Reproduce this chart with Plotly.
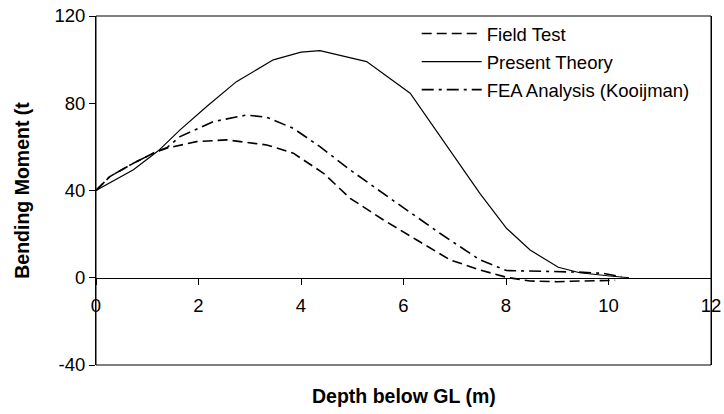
import plotly.graph_objects as go

# Data
ft_depth = [0, 0.27, 0.73, 1.18, 1.38, 1.96, 2.55, 3.33, 3.85, 4.44, 4.96, 5.61, 6.26, 6.91, 7.49, 8.01, 8.47, 8.99, 9.44, 10.13]
ft_moment = [40, 46.4, 52.5, 57.8, 59.4, 62.4, 63.2, 60.9, 57.1, 47.9, 36.4, 26.5, 17.3, 8.2, 3.6, 0.2, -1.5, -1.8, -1.5, -1.2]

pt_depth = [0, 0.73, 1.22, 1.64, 2.16, 2.74, 3.46, 4.0, 4.37, 5.28, 6.13, 6.91, 7.49, 8.01, 8.47, 9.02, 9.44, 10.03, 10.4]
pt_moment = [40, 49.5, 58.3, 67.8, 78.5, 89.9, 99.9, 103.4, 104.1, 99.1, 84.6, 58.5, 38.7, 22.7, 12.7, 4.8, 2.3, 0.8, 0]

fea_depth = [0, 0.27, 0.73, 1.18, 1.38, 1.64, 2.29, 2.94, 3.33, 3.85, 4.37, 4.96, 5.74, 6.71, 7.49, 8.01, 9.4, 9.9, 10.25]
fea_moment = [40, 46.4, 52.5, 57.8, 59.6, 64.7, 71.6, 74.6, 73.6, 68.5, 60.1, 49.4, 36.4, 20.4, 8.2, 3.3, 2.6, 2.0, 0.5]

x_ticks = [0, 2, 4, 6, 8, 10, 12]
y_ticks = [-40, 0, 40, 80, 120]

FONT = "Liberation Sans, Arial, sans-serif"

fig = go.Figure()
fig.add_trace(go.Scatter(x=ft_depth, y=ft_moment, mode="lines", name="Field Test",
                         legendgroup="a",
                         line=dict(color="black", width=1.6, dash="10px,5px")))
fig.add_trace(go.Scatter(x=pt_depth, y=pt_moment, mode="lines", name="Present Theory",
                         legendgroup="b",
                         line=dict(color="black", width=1.2)))
fig.add_trace(go.Scatter(x=fea_depth, y=fea_moment, mode="lines", name="FEA Analysis (Kooijman)",
                         legendgroup="c",
                         line=dict(color="black", width=1.6, dash="12px,5px,3px,5px")))

fig.update_layout(
    width=724, height=414,
    margin=dict(l=96, r=13, t=16, b=49, autoexpand=False),
    paper_bgcolor="white", plot_bgcolor="white",
    font=dict(family=FONT, size=18.5, color="black"),
    showlegend=True,
    legend=dict(x=0.5215, y=1.003, xanchor="left", yanchor="top",
                bgcolor="rgba(0,0,0,0)", font=dict(size=18.5),
                itemwidth=60, tracegroupgap=1),
    xaxis=dict(range=[0, 12], tickvals=x_ticks, ticktext=[str(v) for v in x_ticks],
               anchor="free", position=0.25,
               showline=True, linecolor="black", linewidth=1,
               ticks="outside", ticklen=6, tickcolor="black",
               ticklabelstandoff=5,
               showgrid=False, zeroline=False,
               tickfont=dict(size=18.5)),
    yaxis=dict(range=[-40, 120], tickvals=y_ticks, ticktext=[str(v) for v in y_ticks],
               showline=True, linecolor="black", linewidth=1, mirror=True,
               ticks="outside", ticklen=6, tickcolor="black",
               showgrid=False, zeroline=False,
               tickfont=dict(size=18.5),
               title=dict(text="<b>Bending Moment (t</b>", font=dict(size=19.5), standoff=19)),
    shapes=[dict(type="rect", xref="paper", yref="paper", x0=0, x1=1, y0=0, y1=1,
                 line=dict(color="black", width=1), layer="above")],
    annotations=[dict(text="<b>Depth below GL (m)</b>", xref="paper", yref="paper",
                      x=0.5, y=-0.09, xanchor="center", yanchor="middle",
                      showarrow=False, font=dict(size=19.5))],
)

fig.write_html("out.html")
